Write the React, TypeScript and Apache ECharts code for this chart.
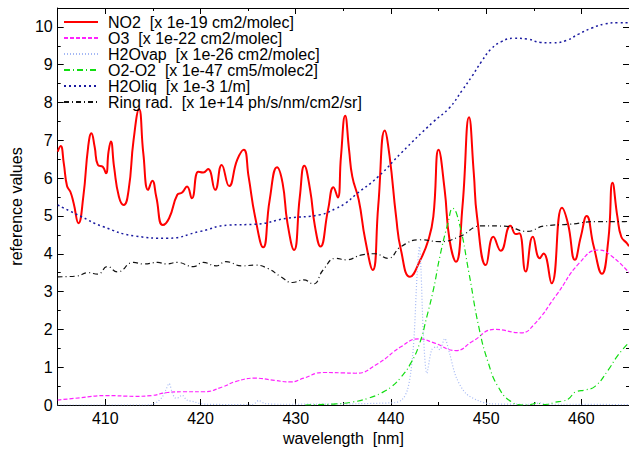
import React, { useEffect, useRef } from "react";
import * as echarts from "echarts";

const FONT = "'Liberation Sans', Arial, Helvetica, sans-serif";

const seriesNames = [
  "NO2  [x 1e-19 cm2/molec]",
  "O3  [x 1e-22 cm2/molec]",
  "H2Ovap  [x 1e-26 cm2/molec]",
  "O2-O2  [x 1e-47 cm5/molec2]",
  "H2Oliq  [x 1e-3 1/m]",
  "Ring rad.  [x 1e+14 ph/s/nm/cm2/sr]",
];

const no2: [number, number][] = [
  [405.0, 6.7], [405.31, 6.85], [405.64, 6.39], [405.98, 5.79], [406.33, 5.64], [406.67, 5.34],
  [407.18, 4.81], [407.69, 5.51], [408.2, 6.83], [408.54, 7.19], [408.88, 6.83], [409.22, 6.35],
  [409.73, 6.3], [410.07, 6.13], [410.34, 6.7], [410.58, 6.97], [410.92, 6.3], [411.43, 5.51],
  [411.94, 5.29], [412.45, 5.69], [412.97, 7.01], [413.54, 7.82], [413.99, 6.66], [414.5, 5.69],
  [414.94, 5.93], [415.35, 5.51], [416.03, 4.76], [416.7, 4.94], [417.56, 5.56], [418.07, 5.62],
  [418.58, 5.78], [419.09, 5.47], [419.77, 6.17], [420.28, 6.15], [420.79, 6.24], [421.54, 5.69],
  [422.22, 6.35], [423.0, 5.79], [423.85, 6.48], [424.54, 6.75], [425.05, 6.04], [425.73, 4.98],
  [426.58, 4.17], [427.26, 5.42], [428.04, 6.29], [428.62, 5.87], [429.13, 4.81], [429.82, 4.1],
  [430.43, 5.51], [430.9, 6.33], [431.51, 5.69], [432.02, 4.72], [432.6, 4.19], [433.39, 5.16],
  [433.96, 5.76], [434.41, 5.49], [434.75, 6.57], [435.19, 7.65], [435.6, 6.75], [435.94, 6.04],
  [436.62, 5.42], [437.3, 4.37], [438.09, 3.57], [438.66, 5.25], [439.35, 7.26], [439.86, 6.57],
  [440.54, 4.98], [441.05, 4.1], [442.0, 3.39], [443.09, 3.84], [443.94, 4.37], [444.45, 4.98],
  [445.0, 6.75], [445.64, 5.69], [446.15, 4.37], [446.83, 3.79], [447.51, 5.25], [448.2, 7.61],
  [448.7, 6.13], [449.04, 4.98], [449.97, 3.7], [450.75, 4.45], [451.53, 4.08], [452.55, 4.74],
  [453.13, 4.52], [453.47, 4.54], [454.15, 3.53], [454.9, 4.45], [455.62, 3.88], [456.02, 4.01],
  [456.87, 3.22], [457.96, 5.22], [458.58, 4.81], [459.32, 3.84], [459.94, 4.45], [460.55, 5.0],
  [461.3, 4.19], [462.15, 3.47], [462.83, 4.37], [463.27, 5.88], [463.78, 4.98], [464.19, 4.45],
  [464.77, 4.28], [465.0, 4.2],
];

const o3: [number, number][] = [
  [405, 0.13], [407.34, 0.19], [410.07, 0.25], [413.13, 0.23], [414.83, 0.25], [416.53, 0.33],
  [418.23, 0.35], [420.28, 0.35], [422.32, 0.48], [423.68, 0.62], [425.72, 0.71], [427.76, 0.65],
  [429.47, 0.61], [430.83, 0.71], [432.87, 0.86], [434.91, 0.85], [436.28, 0.84], [438.66, 1.1],
  [441.05, 1.54], [442.92, 1.75], [444.45, 1.65], [446.83, 1.44], [448.54, 1.68], [450.92, 2.0],
  [453.64, 1.91], [455.0, 2.12], [457.38, 2.91], [459.77, 3.75], [461.81, 4.1], [463.17, 3.94],
  [465, 3.5],
];

const h2ovap: [number, number][] = [
  [405, 0], [414.0, 0], [414.83, 0.01], [415.5, 0.09], [416.0, 0.22], [416.36, 0.4], [416.7, 0.57],
  [417.0, 0.35], [417.3, 0.19], [417.55, 0.18], [418.06, 0.26], [418.57, 0.13], [419.26, 0.09],
  [419.9, 0.04], [420.6, 0.02], [425.4, 0.01], [425.8, 0.06], [426.1, 0.12], [426.75, 0.04],
  [428.45, 0.02], [440.37, 0.06], [441.2, 0.15], [441.73, 0.4], [442.1, 0.9], [442.41, 1.72],
  [442.75, 3.48], [442.99, 4.19], [443.15, 3.6], [443.4, 1.9], [443.77, 0.84], [444.28, 1.46],
  [444.79, 1.54], [445.13, 1.46], [445.64, 1.76], [446.15, 1.37], [446.83, 0.75], [447.85, 0.31],
  [449.22, 0.11], [450.58, 0.03], [455, 0.02], [455.6, 0.06], [456.2, 0.02], [458, 0.02], [465, 0.01],
];

const o2o2: [number, number][] = [
  [431, 0], [432.5, 0.01], [434.24, 0.03], [436, 0.08], [437.64, 0.18], [439, 0.32], [440.03, 0.48],
  [441, 0.72], [442.07, 1.1], [443, 1.62], [443.77, 2.34], [444.5, 3.1], [445.13, 3.92],
  [445.98, 4.81], [446.49, 5.2], [447.17, 4.81], [448.2, 3.48], [449.22, 2.07], [450.24, 1.1],
  [451.26, 0.48], [452.62, 0.09], [453.98, 0], [454.8, 0.02], [455.34, 0.06], [455.9, 0.01],
  [456.5, 0.02], [457.2, 0.07], [458.07, 0.11], [458.6, 0.15], [459.43, 0.35], [460.45, 0.4],
  [461.47, 0.5], [462.83, 0.93], [463.85, 1.32], [465, 1.65],
];

const h2oliq: [number, number][] = [
  [405, 5.29], [407.34, 5.0], [409.73, 4.72], [413.13, 4.47], [416.53, 4.41], [419.94, 4.59],
  [423.0, 4.76], [425.72, 4.78], [429.13, 4.94], [432.53, 5.03], [434.24, 5.2], [435.25, 5.34],
  [436.28, 5.56], [438.66, 6.04], [441.05, 6.66], [444.45, 7.49], [446.1, 7.85], [447.5, 8.33],
  [448.5, 8.69], [449.5, 9.08], [450.5, 9.41], [451.6, 9.61], [452.9, 9.7], [454.3, 9.68],
  [455.7, 9.59], [457.0, 9.58], [458.4, 9.64], [459.7, 9.81], [461.1, 9.97], [462.5, 10.08],
  [463.8, 10.11], [465, 10.11],
];

const ring: [number, number][] = [
  [405, 3.39], [407.0, 3.41], [408.2, 3.5], [409.2, 3.46], [410.24, 3.66], [411.26, 3.52],
  [412.96, 3.77], [413.98, 3.73], [415.51, 3.77], [416.36, 3.73], [417.55, 3.77], [419.26, 3.66],
  [420.28, 3.77], [421.64, 3.68], [422.66, 3.79], [424.36, 3.68], [425.72, 3.7], [427.08, 3.61],
  [428.45, 3.39], [429.64, 3.24], [430.83, 3.31], [431.85, 3.2], [432.87, 3.57], [434.23, 3.88],
  [435.26, 3.84], [436.96, 3.97], [438.32, 4.0], [439.69, 3.88], [441.05, 4.19], [443.09, 4.37],
  [445.13, 4.32], [447.17, 4.45], [449.56, 4.74], [451.94, 4.73], [454.32, 4.59], [456.02, 4.73],
  [458.75, 4.78], [461.47, 4.85], [464.53, 4.85], [465, 4.86],
];

const X_MIN = 405;
const X_MAX = 465;
const Y_MIN = 0;
const Y_MAX = 10.5;

export default function App() {
  const ref = useRef<HTMLDivElement>(null);

  useEffect(() => {
    const chart = echarts.init(ref.current!, null, { renderer: "svg" });

    const tickCommon = {
      axisLine: { show: true, onZero: false, lineStyle: { color: "#000", width: 1 } },
      axisTick: { show: true, inside: true, length: 6, lineStyle: { color: "#000", width: 1 } },
      minorTick: { show: true, splitNumber: 2, length: 3, lineStyle: { color: "#000", width: 1 } },
      splitLine: { show: false },
      minorSplitLine: { show: false },
    };

    const xBase = {
      type: "value",
      min: X_MIN,
      max: X_MAX,
      splitNumber: 6,
      minInterval: 10,
      maxInterval: 10,
      ...tickCommon,
    };
    const yBase = {
      type: "value",
      min: Y_MIN,
      max: Y_MAX,
      interval: 1,
      ...tickCommon,
    };
    const labelStyle = { color: "#000", fontSize: 16, fontFamily: FONT };

    const mk = (name: string, data: [number, number][], color: string, width: number, type: any, smooth: number) => ({
      name,
      type: "line",
      data,
      showSymbol: false,
      symbol: "none",
      smooth,
      lineStyle: { color, width, type },
      itemStyle: { color },
      emphasis: { disabled: true },
    });

    chart.setOption({
      animation: false,
      backgroundColor: "#fff",
      textStyle: { fontFamily: FONT },
      grid: { left: 44, right: -2.5, top: 8, bottom: 48, containLabel: false },
      legend: {
        orient: "vertical",
        left: 63,
        top: 14,
        padding: 0,
        itemGap: 0,
        itemWidth: 34,
        itemHeight: 10,
        selectedMode: false,
        data: seriesNames,
        itemStyle: { opacity: 0, borderWidth: 0 },
        textStyle: { color: "#000", fontSize: 16, fontFamily: FONT, lineHeight: 16, padding: [0, 0, 0, 5] },
      },
      xAxis: [
        {
          ...xBase,
          position: "bottom",
          name: "wavelength  [nm]",
          nameLocation: "middle",
          nameGap: 25,
          nameTextStyle: labelStyle,
          axisLabel: { ...labelStyle, margin: 5, showMinLabel: false, showMaxLabel: false },
        },
        {
          ...xBase,
          position: "top",
          axisLabel: { show: false },
        },
      ],
      yAxis: [
        {
          ...yBase,
          position: "left",
          name: "reference values",
          nameLocation: "middle",
          nameGap: 24,
          nameTextStyle: labelStyle,
          axisLabel: { ...labelStyle, margin: 5, showMaxLabel: false },
        },
        {
          ...yBase,
          position: "right",
          axisLabel: { show: false },
        },
      ],
      series: [
        mk(seriesNames[0], no2, "#ff0000", 2, "solid", 0.5),
        mk(seriesNames[1], o3, "#ff22ff", 1.2, [4, 2], 0.5),
        mk(seriesNames[2], h2ovap, "#a4b8f4", 1.2, [1, 2], 0.3),
        mk(seriesNames[3], o2o2, "#11dd11", 1.2, [6, 3, 1, 3], 0.5),
        mk(seriesNames[4], h2oliq, "#1a1aa0", 1.5, [2, 3], 0.5),
        mk(seriesNames[5], ring, "#111111", 1.2, [5, 3, 1, 3], 0.5),
      ],
    });

    return () => chart.dispose();
  }, []);

  return (
    <div
      ref={ref}
      style={{ position: "absolute", left: 0, top: 0, width: 629, height: 453 }}
    />
  );
}
